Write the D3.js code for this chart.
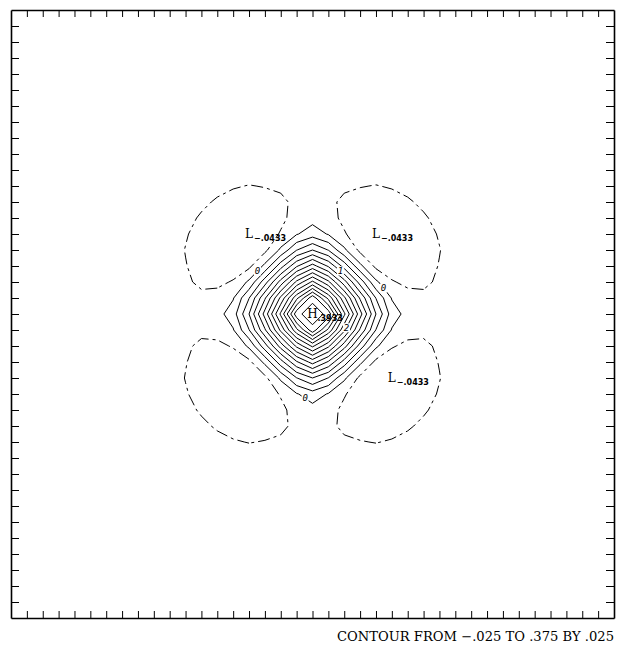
<!DOCTYPE html>
<html>
<head>
<meta charset="utf-8">
<script src="https://cdn.jsdelivr.net/npm/d3@7"></script>
<style>
  html, body { margin: 0; padding: 0; background: #fff; }
  svg { display: block; }
</style>
</head>
<body>
<svg id="chart" width="619" height="648"></svg>
<script>
// ---- field definition -------------------------------------------------------
// 39 x 39 sample grid; the 21 x 21 window below holds the central field,
// every sample outside the window keeps the small negative background value.
const GRID_NX = 39;
const GRID_NY = 39;
const FIELD_OFFSET = 9;
const FIELD_FILL = -0.001;

const FIELD_ROWS = [
  [-.001,-.001,-.0014,-.0026,-.0042,-.0058,-.007,-.0075,-.0073,-.0069,-.0066,-.0069,-.0073,-.0075,-.007,-.0058,-.0042,-.0026,-.0014,-.001,-.001],
  [-.001,-.0015,-.0032,-.0059,-.0092,-.0125,-.0146,-.0148,-.0135,-.0122,-.0119,-.0122,-.0135,-.0148,-.0146,-.0125,-.0092,-.0059,-.0032,-.0015,-.001],
  [-.0014,-.0032,-.0066,-.0116,-.0177,-.0231,-.0258,-.024,-.0216,-.0179,-.0162,-.0179,-.0216,-.024,-.0258,-.0231,-.0177,-.0116,-.0066,-.0032,-.0014],
  [-.0026,-.0059,-.0116,-.0198,-.0282,-.0332,-.035,-.0336,-.0292,-.0202,-.0149,-.0202,-.0292,-.0336,-.035,-.0332,-.0282,-.0198,-.0116,-.0059,-.0026],
  [-.0042,-.0092,-.0177,-.0282,-.0357,-.0399,-.0409,-.0387,-.0306,-.0159,-.0093,-.0159,-.0306,-.0387,-.0409,-.0399,-.0357,-.0282,-.0177,-.0092,-.0042],
  [-.0058,-.0125,-.0231,-.0332,-.0399,-.0425,-.0433,-.0379,-.0229,-.0019,.013,-.0019,-.0229,-.0379,-.0433,-.0425,-.0399,-.0332,-.0231,-.0125,-.0058],
  [-.007,-.0146,-.0258,-.035,-.0409,-.0433,-.0404,-.031,.0047,.0491,.0749,.0491,.0047,-.031,-.0404,-.0433,-.0409,-.035,-.0258,-.0146,-.007],
  [-.0075,-.0148,-.024,-.0336,-.0387,-.0379,-.031,.006,.064,.1216,.1598,.1216,.064,.006,-.031,-.0379,-.0387,-.0336,-.024,-.0148,-.0075],
  [-.0073,-.0135,-.0216,-.0292,-.0306,-.0229,.0047,.064,.1355,.2059,.255,.2059,.1355,.064,.0047,-.0229,-.0306,-.0292,-.0216,-.0135,-.0073],
  [-.0069,-.0122,-.0179,-.0202,-.0159,-.0019,.0491,.1216,.2059,.2934,.366,.2934,.2059,.1216,.0491,-.0019,-.0159,-.0202,-.0179,-.0122,-.0069],
  [-.0066,-.0119,-.0162,-.0149,-.0093,.013,.0749,.1598,.255,.366,.3933,.366,.255,.1598,.0749,.013,-.0093,-.0149,-.0162,-.0119,-.0066],
  [-.0069,-.0122,-.0179,-.0202,-.0159,-.0019,.0491,.1216,.2059,.2934,.366,.2934,.2059,.1216,.0491,-.0019,-.0159,-.0202,-.0179,-.0122,-.0069],
  [-.0073,-.0135,-.0216,-.0292,-.0306,-.0229,.0047,.064,.1355,.2059,.255,.2059,.1355,.064,.0047,-.0229,-.0306,-.0292,-.0216,-.0135,-.0073],
  [-.0075,-.0148,-.024,-.0336,-.0387,-.0379,-.031,.006,.064,.1216,.1598,.1216,.064,.006,-.031,-.0379,-.0387,-.0336,-.024,-.0148,-.0075],
  [-.007,-.0146,-.0258,-.035,-.0409,-.0433,-.0404,-.031,.0047,.0491,.0749,.0491,.0047,-.031,-.0404,-.0433,-.0409,-.035,-.0258,-.0146,-.007],
  [-.0058,-.0125,-.0231,-.0332,-.0399,-.0425,-.0433,-.0379,-.0229,-.0019,.013,-.0019,-.0229,-.0379,-.0433,-.0425,-.0399,-.0332,-.0231,-.0125,-.0058],
  [-.0042,-.0092,-.0177,-.0282,-.0357,-.0399,-.0409,-.0387,-.0306,-.0159,-.0093,-.0159,-.0306,-.0387,-.0409,-.0399,-.0357,-.0282,-.0177,-.0092,-.0042],
  [-.0026,-.0059,-.0116,-.0198,-.0282,-.0332,-.035,-.0336,-.0292,-.0202,-.0149,-.0202,-.0292,-.0336,-.035,-.0332,-.0282,-.0198,-.0116,-.0059,-.0026],
  [-.0014,-.0032,-.0066,-.0116,-.0177,-.0231,-.0258,-.024,-.0216,-.0179,-.0162,-.0179,-.0216,-.024,-.0258,-.0231,-.0177,-.0116,-.0066,-.0032,-.0014],
  [-.001,-.0015,-.0032,-.0059,-.0092,-.0125,-.0146,-.0148,-.0135,-.0122,-.0119,-.0122,-.0135,-.0148,-.0146,-.0125,-.0092,-.0059,-.0032,-.0015,-.001],
  [-.001,-.001,-.0014,-.0026,-.0042,-.0058,-.007,-.0075,-.0073,-.0069,-.0066,-.0069,-.0073,-.0075,-.007,-.0058,-.0042,-.0026,-.0014,-.001,-.001]
];

// contour levels: FROM / TO / BY
const LEVEL_MIN = -0.025;
const LEVEL_MAX = 0.375;
const LEVEL_STEP = 0.025;

// labelled extrema (grid column, grid row)
const EXTREMA_KIND = ["H", "L", "L", "L"];
const EXTREMA_COL  = [19, 15, 23, 24];
const EXTREMA_ROW  = [19, 14, 14, 23];

// in-line contour labels: level and direction (degrees) seen from the centre
const LINE_LABEL_LEVEL = [0, 0, 0, 0.1, 0.2];
const LINE_LABEL_ANGLE = [-142, -20, 95, -57, 22];

// ---- layout -----------------------------------------------------------------
const frame = { left: 11, top: 10, right: 614, bottom: 618 };
const svg = d3.select("#chart");

const x = d3.scaleLinear().domain([0, GRID_NX - 1]).range([frame.left, frame.right]);
const y = d3.scaleLinear().domain([0, GRID_NY - 1]).range([frame.top, frame.bottom]);

// full sample grid
const values = new Array(GRID_NX * GRID_NY).fill(FIELD_FILL);
FIELD_ROWS.forEach((row, r) => row.forEach((v, c) => {
  values[(r + FIELD_OFFSET) * GRID_NX + (c + FIELD_OFFSET)] = v;
}));
const sample = (col, row) => values[row * GRID_NX + col];

const nLevels = Math.round((LEVEL_MAX - LEVEL_MIN) / LEVEL_STEP) + 1;
const levels = d3.range(nLevels).map(k => +(LEVEL_MIN + k * LEVEL_STEP).toFixed(3));

const contours = d3.contours().size([GRID_NX, GRID_NY]).thresholds(levels)(values);

// rings in pixel space, dropping the rings that run along the grid border
const ringsByLevel = new Map();
contours.forEach(c => {
  const rings = [];
  c.coordinates.forEach(poly => poly.forEach(ring => {
    const onEdge = ring.some(p => p[0] <= 0 || p[0] >= GRID_NX || p[1] <= 0 || p[1] >= GRID_NY);
    if (onEdge) return;
    rings.push(ring.map(p => [x(p[0] - 0.5), y(p[1] - 0.5)]));
  }));
  ringsByLevel.set(c.value, rings);
});

const line = d3.line();
const gContours = svg.append("g").attr("fill", "none").attr("stroke", "#000").attr("stroke-width", 1);
levels.forEach(lv => {
  (ringsByLevel.get(lv) || []).forEach(ring => {
    gContours.append("path")
      .attr("d", line(ring) + "Z")
      .attr("stroke-dasharray", lv < 0 ? "12,4,3,4" : null)
      .attr("stroke-linejoin", "round");
  });
});

// ---- frame with inward ticks ------------------------------------------------
const tickCols = d3.range(1, GRID_NX - 1);
const tickRows = d3.range(1, GRID_NY - 1);
const axes = [
  { axis: d3.axisTop(x).tickValues(tickCols).tickSizeInner(-7), tr: `translate(0,${frame.top})` },
  { axis: d3.axisBottom(x).tickValues(tickCols).tickSizeInner(-7), tr: `translate(0,${frame.bottom})` },
  { axis: d3.axisLeft(y).tickValues(tickRows).tickSizeInner(-8), tr: `translate(${frame.left},0)` },
  { axis: d3.axisRight(y).tickValues(tickRows).tickSizeInner(-8), tr: `translate(${frame.right},0)` }
];
axes.forEach(a => {
  const g = svg.append("g").attr("transform", a.tr)
    .call(a.axis.tickSizeOuter(0).tickFormat(""));
  g.select(".domain").attr("stroke", "#000").attr("stroke-width", 1.6);
  g.selectAll(".tick line").attr("stroke", "#000").attr("stroke-width", 1);
});

// ---- labels -------------------------------------------------------------------
const fmtVal = (v, digits) => (v < 0 ? "\u2212" : "") + d3.format("." + digits + "f")(Math.abs(v)).replace(/^0/, "");

// in-line labels, placed where a ray from the centre meets the contour
const cx = x(19), cy = y(19);
function rayHit(rings, deg) {
  const a = deg * Math.PI / 180, dx = Math.cos(a), dy = Math.sin(a);
  let best = null;
  rings.forEach(ring => {
    for (let i = 0; i < ring.length; i++) {
      const p = ring[i], q = ring[(i + 1) % ring.length];
      const ex = q[0] - p[0], ey = q[1] - p[1];
      const den = dx * ey - dy * ex;
      if (Math.abs(den) < 1e-9) continue;
      const t = ((p[0] - cx) * ey - (p[1] - cy) * ex) / den;
      const s = ((p[0] - cx) * dy - (p[1] - cy) * dx) / den;
      if (t > 0 && s >= 0 && s <= 1 && (!best || t < best.t)) best = { t, x: cx + t * dx, y: cy + t * dy };
    }
  });
  return best;
}

const gLineLabels = svg.append("g");
LINE_LABEL_LEVEL.forEach((lv, k) => {
  const hit = rayHit(ringsByLevel.get(lv) || [], LINE_LABEL_ANGLE[k]);
  if (!hit) return;
  gLineLabels.append("rect")
    .attr("x", hit.x - 3.5).attr("y", hit.y - 4.5).attr("width", 7).attr("height", 9)
    .attr("fill", "#fff");
  gLineLabels.append("text")
    .attr("x", hit.x).attr("y", hit.y)
    .attr("text-anchor", "middle").attr("dominant-baseline", "central")
    .attr("font-family", "DejaVu Sans Mono").attr("font-style", "italic")
    .attr("font-size", 9).attr("fill", "#000")
    .text(String(Math.round(lv * 10)));
});

// H / L markers with their sample values
const gExt = svg.append("g").attr("fill", "#000");
EXTREMA_KIND.forEach((kind, k) => {
  const col = EXTREMA_COL[k], row = EXTREMA_ROW[k];
  const px = x(col), py = y(row);
  gExt.append("text")
    .attr("x", px).attr("y", py)
    .attr("text-anchor", "middle").attr("dominant-baseline", "central")
    .attr("font-family", "DejaVu Serif").attr("font-size", 12)
    .text(kind);
  gExt.append("text")
    .attr("x", px + 5).attr("y", py + 7)
    .attr("font-family", "DejaVu Sans").attr("font-weight", "bold").attr("font-size", 8)
    .text(fmtVal(sample(col, row), 4));
});

// caption
svg.append("text")
  .attr("x", frame.right).attr("y", 641)
  .attr("text-anchor", "end")
  .attr("font-family", "DejaVu Serif").attr("font-size", 13)
  .attr("textLength", 277).attr("lengthAdjust", "spacingAndGlyphs")
  .attr("fill", "#000")
  .text(`CONTOUR FROM ${fmtVal(LEVEL_MIN, 3)} TO ${fmtVal(LEVEL_MAX, 3)} BY ${fmtVal(LEVEL_STEP, 3)}`);
</script>
</body>
</html>
